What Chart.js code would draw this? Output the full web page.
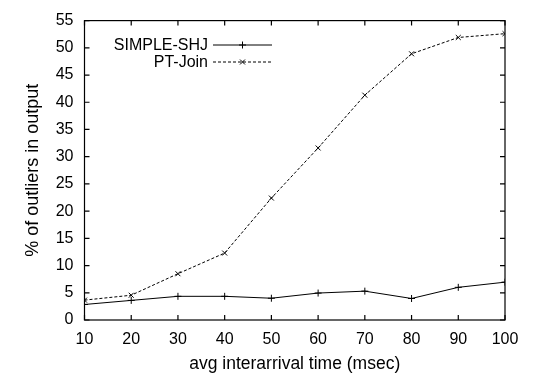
<!DOCTYPE html>
<html>
<head>
<meta charset="utf-8">
<script src="https://cdn.jsdelivr.net/npm/chart.js@4/dist/chart.umd.min.js"></script>
<style>
  html, body { margin: 0; padding: 0; background: #fff; }
  #wrap { width: 535px; height: 376px; }
</style>
</head>
<body>
<div id="wrap"><canvas id="myChart" width="535" height="376"></canvas></div>
<script>
const interarrival = [10, 20, 30, 40, 50, 60, 70, 80, 90, 100];
const simpleShj = [2.85, 3.6, 4.35, 4.35, 4.0, 4.95, 5.3, 3.95, 6.0, 6.95];
const ptJoin = [3.65, 4.55, 8.5, 12.3, 22.4, 31.6, 41.3, 48.9, 51.9, 52.6];
const seriesNames = ['SIMPLE-SHJ', 'PT-Join'];
const xTicks = [10, 20, 30, 40, 50, 60, 70, 80, 90, 100];
const yTicks = [0, 5, 10, 15, 20, 25, 30, 35, 40, 45, 50, 55];

const FONT = '"Liberation Sans", Arial, Helvetica, sans-serif';
Chart.defaults.font.family = FONT;
Chart.defaults.color = '#000';

// gnuplot style frame with inward ticks on all four sides
const framePlugin = {
    id: 'frame',
    afterDatasetsDraw(chart) {
        const c = chart.ctx;
        const a = chart.chartArea;
        const xs = chart.scales.x, ys = chart.scales.y;
        const len = 5;
        c.save();
        c.strokeStyle = '#000';
        c.lineWidth = 1.2;
        c.setLineDash([]);
        c.strokeRect(a.left, a.top, a.right - a.left, a.bottom - a.top);
        c.beginPath();
        xTicks.forEach(v => {
            const px = xs.getPixelForValue(v);
            c.moveTo(px, a.bottom); c.lineTo(px, a.bottom - len);
            c.moveTo(px, a.top); c.lineTo(px, a.top + len);
        });
        yTicks.forEach(v => {
            const py = ys.getPixelForValue(v);
            c.moveTo(a.left, py); c.lineTo(a.left + len, py);
            c.moveTo(a.right, py); c.lineTo(a.right - len, py);
        });
        c.stroke();
        c.restore();
    }
};

// legend like gnuplot: label right aligned, sample line on its right
const keyPlugin = {
    id: 'key',
    afterDraw(chart) {
        const c = chart.ctx;
        const textRight = 208, x0 = 213, x1 = 272;
        const rows = [45, 62];
        c.save();
        c.font = '16px ' + FONT;
        c.fillStyle = '#000';
        c.textAlign = 'right';
        c.textBaseline = 'middle';
        chart.data.datasets.forEach((ds, i) => {
            const y = rows[i];
            c.fillText(ds.label, textRight, y + 1);
            c.strokeStyle = '#000';
            c.lineWidth = 1;
            c.setLineDash(ds.borderDash || []);
            c.beginPath();
            c.moveTo(x0, y); c.lineTo(x1, y);
            c.stroke();
            c.setLineDash([]);
            Chart.helpers.drawPoint(c, {
                pointStyle: ds.pointStyle, radius: ds.pointRadius, borderWidth: 1
            }, (x0 + x1) / 2, y);
        });
        c.restore();
    }
};

new Chart(document.getElementById('myChart'), {
    type: 'line',
    data: {
        datasets: [{
            label: seriesNames[0],
            data: interarrival.map((x, i) => ({ x: x, y: simpleShj[i] })),
            borderColor: '#000',
            backgroundColor: '#000',
            borderWidth: 1,
            pointStyle: 'cross',
            pointRadius: 3.5,
            pointBorderWidth: 1,
            tension: 0
        }, {
            label: seriesNames[1],
            data: interarrival.map((x, i) => ({ x: x, y: ptJoin[i] })),
            borderColor: '#000',
            backgroundColor: '#000',
            borderWidth: 1,
            borderDash: [3, 2],
            pointStyle: 'crossRot',
            pointRadius: 3.5,
            pointBorderWidth: 1,
            tension: 0
        }]
    },
    options: {
        responsive: false,
        maintainAspectRatio: false,
        animation: { duration: 0 },
        layout: { padding: { left: 0, right: 30, top: 17, bottom: 0 } },
        scales: {
            x: {
                type: 'linear',
                min: 10,
                max: 100,
                afterBuildTicks: s => { s.ticks = xTicks.map(v => ({ value: v })); },
                afterFit: s => { s.height = 56; },
                grid: { display: false, drawTicks: false },
                border: { display: false },
                ticks: { font: { size: 16 }, padding: 10, maxRotation: 0, color: '#000' },
                title: {
                    display: true,
                    text: 'avg interarrival time (msec)',
                    font: { size: 17.5 },
                    padding: { top: 0, bottom: 1.5 },
                    color: '#000'
                }
            },
            y: {
                type: 'linear',
                min: 0,
                max: 55,
                afterBuildTicks: s => { s.ticks = yTicks.map(v => ({ value: v })); },
                afterFit: s => { s.width = 84.5; },
                grid: { display: false, drawTicks: false },
                border: { display: false },
                ticks: { font: { size: 16 }, padding: 11, color: '#000' },
                title: {
                    display: true,
                    text: '% of outliers in output',
                    font: { size: 18 },
                    padding: { top: 22, bottom: 0 },
                    color: '#000'
                }
            }
        },
        plugins: {
            legend: { display: false },
            tooltip: { enabled: false }
        }
    },
    plugins: [framePlugin, keyPlugin]
});
</script>
</body>
</html>
